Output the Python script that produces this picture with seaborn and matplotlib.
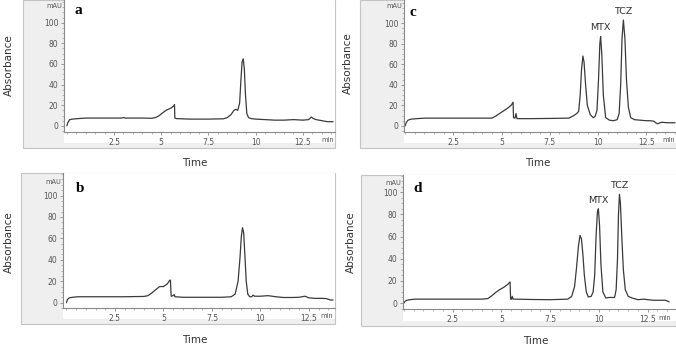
import matplotlib
matplotlib.use('Agg')
import matplotlib.pyplot as plt
from matplotlib.patches import Rectangle
from matplotlib.ticker import MultipleLocator
import seaborn as sns

# chromatogram traces (time in min, absorbance in mAU)
t_a = [0, 0.05, 0.15, 0.3, 0.6, 1.0, 2.0, 2.9, 3.0, 3.1, 4.0, 4.5, 4.7, 4.9, 5.1, 5.3, 5.5, 5.68, 5.7, 5.72,
       5.8, 6.5, 7.5, 8.3, 8.5, 8.7, 8.85, 8.95, 9.05, 9.15, 9.22, 9.28, 9.34, 9.4, 9.46, 9.53, 9.62, 9.75, 10.0, 10.5,
       11.0, 11.5, 12.0, 12.5, 12.8, 12.95, 13.05, 13.2, 13.5, 13.8, 14.1]
abs_a = [0, 3, 6, 6.5, 7, 7.5, 7.5, 7.5, 8, 7.5, 7.5, 7.3, 8, 10, 13, 15.5, 17, 19.5, 20.5, 7.5,
         7, 6.5, 6.5, 6.8, 8, 11, 15, 16, 15, 22, 45, 62, 65, 55, 30, 12, 8, 7, 6.5, 6,
         5.5, 5.5, 6, 5.5, 6, 8.5, 7, 6, 5, 4, 4]

t_b = [0, 0.05, 0.15, 0.3, 0.6, 1.0, 2.0, 3.0, 4.0, 4.2, 4.4, 4.6, 4.8, 5.0, 5.2, 5.33, 5.36, 5.4, 5.5, 5.55,
       5.6, 6.0, 7.0, 8.0, 8.5, 8.7, 8.85, 8.95, 9.02, 9.08, 9.14, 9.2, 9.27, 9.35, 9.45, 9.55, 9.62, 9.7, 10.0, 10.4,
       10.8, 11.2, 11.6, 12.0, 12.3, 12.5, 12.8, 13.2, 13.4, 13.6, 13.75]
abs_b = [0, 3, 4.5, 5, 5.5, 5.5, 5.5, 5.5, 5.8, 6.5, 9, 12, 15, 15, 17.5, 21, 21, 6, 6.5, 7.5,
         5.5, 5, 5, 5, 5.5, 8, 20, 42, 62, 70, 65, 45, 20, 8, 5.5, 5.5, 7, 6, 6, 6.5,
         5.5, 4.8, 4.8, 5, 6, 4.5, 4, 4, 3.8, 2.5, 2.5]

t_c = [0, 0.05, 0.15, 0.3, 0.6, 1.0, 2.0, 3.0, 4.0, 4.5, 4.7, 4.9, 5.1, 5.3, 5.5, 5.6, 5.62, 5.7, 5.75, 5.8,
       5.9, 6.5, 7.5, 8.5, 8.75, 8.9, 9.0, 9.08, 9.15, 9.22, 9.28, 9.36, 9.45, 9.6, 9.75, 9.85, 9.95, 10.03, 10.1, 10.14,
       10.2, 10.28, 10.4, 10.6, 10.8, 11.0, 11.1, 11.18, 11.25, 11.32, 11.4, 11.48, 11.58, 11.7, 11.9, 12.2, 12.5, 12.7, 12.9, 13.0,
       13.1, 13.3, 13.6, 14.0]
abs_c = [0, 3, 5.5, 6.5, 7, 7.5, 7.5, 7.5, 7.5, 7.5, 9.5, 12, 14.5, 17, 20, 23, 8, 7.5, 12, 7,
         7, 7, 7.2, 7.5, 10, 12, 14, 30, 55, 68, 62, 40, 20, 11, 8, 9, 15, 45, 80, 87,
         70, 30, 8, 5.5, 5, 6, 12, 40, 85, 103, 85, 45, 18, 8, 6, 5.5, 5, 5, 4.5, 3,
         2, 3.5, 3, 3]

t_d = [0, 0.05, 0.15, 0.3, 0.6, 1.0, 2.0, 3.0, 4.0, 4.3, 4.5, 4.7, 4.9, 5.1, 5.3, 5.44, 5.47, 5.52, 5.55, 5.6,
       5.7, 6.5, 7.5, 8.4, 8.6, 8.75, 8.85, 8.95, 9.03, 9.1, 9.17, 9.25, 9.35, 9.45, 9.6, 9.7, 9.78, 9.85, 9.92, 9.97,
       10.03, 10.1, 10.2, 10.35, 10.5, 10.65, 10.8, 10.88, 10.95, 11.0, 11.05, 11.1, 11.17, 11.25, 11.35, 11.5, 11.7, 12.0, 12.3, 12.5,
       12.8, 13.1, 13.4, 13.55, 13.6]
abs_d = [0, 1.5, 2.5, 3, 3.5, 3.5, 3.5, 3.5, 3.5, 4, 6.5, 9.5, 12, 14, 16.5, 19, 3.5, 3.5, 6, 3.5,
         3.5, 3.2, 3, 3.5, 6, 15, 32, 52, 61, 58, 45, 25, 10, 5.5, 6, 10, 25, 60, 82, 85,
         70, 35, 10, 4.5, 5, 5, 5, 12, 40, 80, 98, 90, 60, 30, 12, 6, 4.5, 3, 3.5, 3,
         2.5, 2.5, 2.5, 1.5, 1]

panel_letters = ['a', 'b', 'c', 'd']
x_ticks = [2.5, 5, 7.5, 10, 12.5]
x_ticklabels = ['2.5', '5', '7.5', '10', '12.5']
y_ticks = [0, 20, 40, 60, 80, 100]
peak_names = ['MTX', 'TCZ']
peaks_c = [(10.14, 87), (11.32, 103)]
peaks_d = [(9.97, 85), (11.05, 98)]

sns.set_style('white')
plt.rcParams['font.family'] = ['DejaVu Sans']

W, H = 676, 345
fig = plt.figure(figsize=(W / 100, H / 100), dpi=100)

def fx(px):
    return px / W

def fy(py):
    return 1 - py / H

# layout in pixels: gray box, axes box, white bottom, limits, label spots
panels = [
    dict(t=t_a, v=abs_a, gray=(23, 0, 335, 148), ax=(64, 0, 335, 132), white=143,
         xlim=(-0.15, 14.2), ylim=(-6, 122), absl=(9, 65), time=(195, 163), mau=(62, 6), mn=(328, 140),
         letter=(78, 10), peaks=None),
    dict(t=t_b, v=abs_b, gray=(21, 173, 335, 324), ax=(63, 173, 335, 308), white=319,
         xlim=(-0.18, 13.85), ylim=(-5, 121), absl=(9, 242), time=(195, 340), mau=(61, 182), mn=(327, 316),
         letter=(80, 189), peaks=None),
    dict(t=t_c, v=abs_c, gray=(360, 0, 676, 148), ax=(404, 0, 676, 132), white=143,
         xlim=(-0.06, 14.05), ylim=(-6, 122.5), absl=(348, 63), time=(538, 163), mau=(402, 6), mn=(669, 140),
         letter=(413, 12), peaks=peaks_c),
    dict(t=t_d, v=abs_d, gray=(361, 175, 676, 326), ax=(403, 175, 676, 309), white=321,
         xlim=(-0.05, 13.95), ylim=(-5.4, 115.5), absl=(351, 242), time=(536, 341), mau=(401, 183), mn=(665, 318),
         letter=(418, 189), peaks=peaks_d),
]

tick_col = '#555555'
for letter, p in zip(panel_letters, panels):
    gl, gt, gr, gb = p['gray']
    fig.patches.append(Rectangle((fx(gl), fy(gb)), fx(gr - gl), (gb - gt) / H, transform=fig.transFigure,
                                 facecolor='#efefef', edgecolor='#c4c4c4', lw=0.8, zorder=-2))
    al, at, ar, ab = p['ax']
    fig.patches.append(Rectangle((fx(al), fy(p['white'])), fx(ar - al), (p['white'] - at) / H,
                                 transform=fig.transFigure, facecolor='white', edgecolor='none', zorder=-1))
    ax = fig.add_axes([fx(al), fy(ab), fx(ar - al), (ab - at) / H])
    ax.set_facecolor('none')
    sns.lineplot(x=p['t'], y=p['v'], ax=ax, color='#3a3a3a', lw=0.9)
    ax.set_xlim(*p['xlim'])
    ax.set_ylim(*p['ylim'])
    ax.set_xticks(x_ticks)
    ax.set_xticklabels(x_ticklabels)
    ax.set_yticks(y_ticks)
    ax.xaxis.set_minor_locator(MultipleLocator(0.5))
    ax.yaxis.set_minor_locator(MultipleLocator(5))
    for s in ['top', 'right']:
        ax.spines[s].set_visible(False)
    for s in ['left', 'bottom']:
        ax.spines[s].set_color('#8a8a8a')
        ax.spines[s].set_linewidth(0.8)
    ax.tick_params(which='major', direction='out', length=2.5, width=0.6, color='#8a8a8a',
                   labelsize=5.5, labelcolor=tick_col, pad=1.5, left=True, bottom=True)
    ax.tick_params(which='minor', direction='out', length=1.3, width=0.5, color='#9a9a9a', left=True, bottom=True)
    ax.set_xlabel('')
    ax.set_ylabel('')

    fig.text(fx(p['absl'][0]), fy(p['absl'][1]), 'Absorbance', rotation=90, ha='center', va='center',
             fontsize=7.5, color='#333333')
    fig.text(fx(p['time'][0]), fy(p['time'][1]), 'Time', ha='center', va='center', fontsize=7.5, color='#333333')
    fig.text(fx(p['mau'][0]), fy(p['mau'][1]), 'mAU', ha='right', va='center', fontsize=4.8, color=tick_col)
    fig.text(fx(p['mn'][0]), fy(p['mn'][1]), 'min', ha='center', va='center', fontsize=4.8, color=tick_col)
    fig.text(fx(p['letter'][0]), fy(p['letter'][1]), letter, ha='center', va='center', fontsize=11,
             fontweight='bold', family='Liberation Serif', color='black')
    if p['peaks']:
        for name, (pt, pv) in zip(peak_names, p['peaks']):
            ax.annotate(name, xy=(pt, pv), xytext=(0, 3), textcoords='offset points', ha='center', va='bottom',
                        fontsize=6.8, color='#333333', annotation_clip=False)

fig.savefig('out.png', dpi=100)
